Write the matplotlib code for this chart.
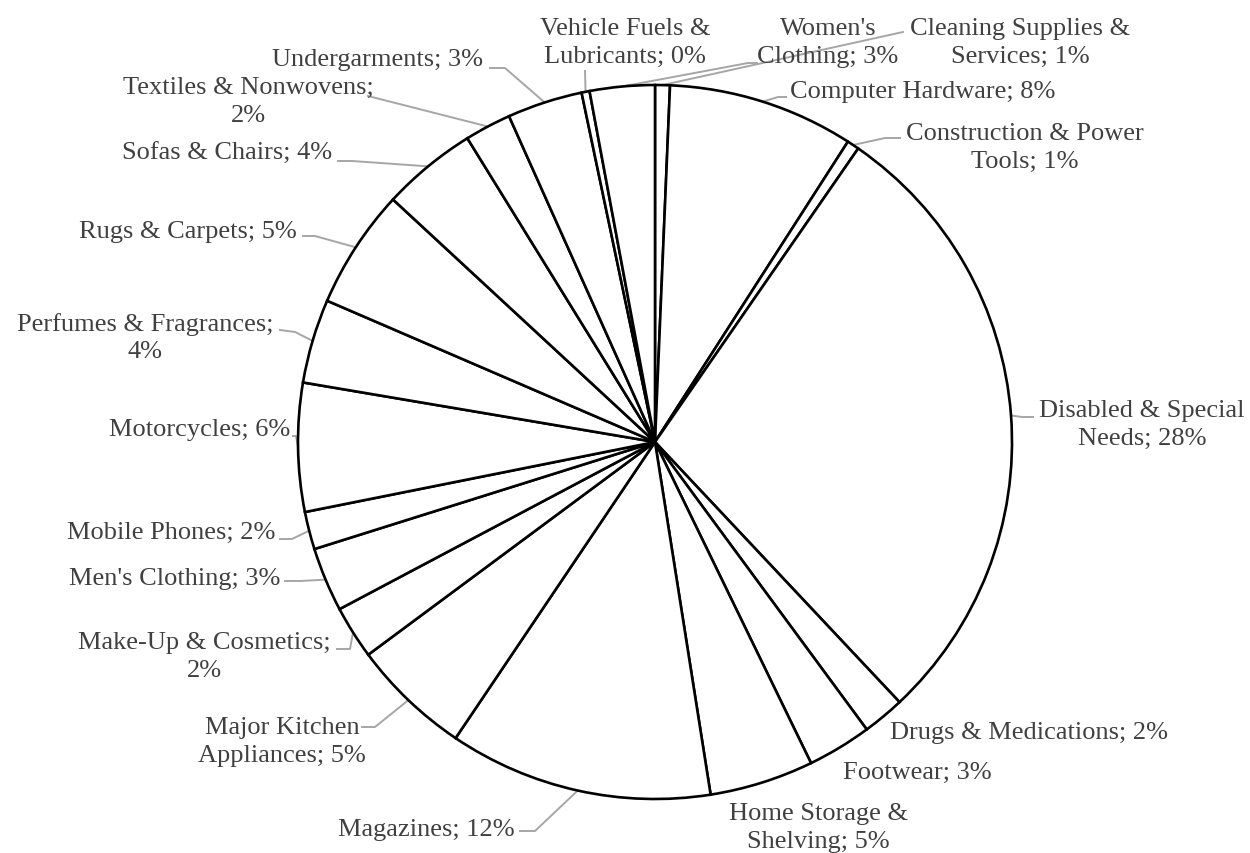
import numpy as np
import matplotlib
matplotlib.use("Agg")
import matplotlib.pyplot as plt

# category shares (percent), clockwise from 12 o'clock
categories = [
    "Cleaning Supplies & Services", "Computer Hardware", "Construction & Power Tools",
    "Disabled & Special Needs", "Drugs & Medications", "Footwear",
    "Home Storage & Shelving", "Magazines", "Major Kitchen Appliances",
    "Make-Up & Cosmetics", "Men's Clothing", "Mobile Phones", "Motorcycles",
    "Perfumes & Fragrances", "Rugs & Carpets", "Sofas & Chairs",
    "Textiles & Nonwovens", "Undergarments", "Vehicle Fuels & Lubricants",
    "Women's Clothing",
]
values = [0.67, 8.4, 0.55, 28.3, 1.9, 2.9, 4.7, 11.9, 5.4, 2.4,
          2.9, 1.7, 5.8, 3.8, 5.4, 4.3, 2.1, 3.4, 0.36, 2.93]

# where the label text wraps onto a second line
breaks = {
    "Cleaning Supplies & Services": "Cleaning Supplies &",
    "Construction & Power Tools": "Construction & Power",
    "Disabled & Special Needs": "Disabled & Special",
    "Home Storage & Shelving": "Home Storage &",
    "Major Kitchen Appliances": "Major Kitchen",
    "Make-Up & Cosmetics": "Make-Up & Cosmetics;",
    "Perfumes & Fragrances": "Perfumes & Fragrances;",
    "Textiles & Nonwovens": "Textiles & Nonwovens;",
    "Vehicle Fuels & Lubricants": "Vehicle Fuels &",
    "Women's Clothing": "Women's",
}

W, H = 1250, 854
CX, CY, R = 655, 443, 357


def px(x, y):
    return x, H - y


# label placement in pixels: (x, y, ha, leader start points)
layout = {
    "Cleaning Supplies & Services": (1020, 43, "center", [(903, 33)]),
    "Computer Hardware": (790, 92, "left", [(786, 98), (778, 98)]),
    "Construction & Power Tools": (1025, 148, "center", [(900, 139), (885, 139)]),
    "Disabled & Special Needs": (1142, 425, "center", [(1033, 418), (1022, 418)]),
    "Drugs & Medications": (890, 733, "left", None),
    "Footwear": (843, 773, "left", None),
    "Home Storage & Shelving": (818, 828, "center", None),
    "Magazines": (515, 830, "right", [(520, 832), (535, 832)]),
    "Major Kitchen Appliances": (282, 742, "center", [(362, 728), (375, 728)]),
    "Make-Up & Cosmetics": (204, 657, "center", [(337, 650), (350, 650)]),
    "Men's Clothing": (280, 579, "right", [(285, 582), (300, 582)]),
    "Mobile Phones": (275, 533, "right", [(280, 540), (292, 540)]),
    "Motorcycles": (290, 430, "right", [(293, 437), (296, 437)]),
    "Perfumes & Fragrances": (145, 338, "center", [(280, 331), (295, 333)]),
    "Rugs & Carpets": (297, 232, "right", [(303, 237), (315, 237)]),
    "Sofas & Chairs": (332, 154, "right", [(338, 162), (352, 162)]),
    "Textiles & Nonwovens": (248, 102, "center", [(368, 97)]),
    "Undergarments": (483, 60, "right", [(490, 69), (505, 69)]),
    "Vehicle Fuels & Lubricants": (625, 43, "center", [(585, 72)]),
    "Women's Clothing": (828, 43, "center", [(757, 64), (748, 64)]),
}

fig = plt.figure(figsize=(W / 100, H / 100), dpi=100)
ax = fig.add_axes([0, 0, 1, 1])

wedges, _ = ax.pie(values, startangle=90, counterclock=False,
                   center=px(CX, CY), radius=R, normalize=True,
                   wedgeprops=dict(facecolor="white", edgecolor="black", linewidth=1.9))

ax.set_xlim(0, W)
ax.set_ylim(0, H)
ax.set_aspect("equal")
ax.axis("off")

for name, val, w in zip(categories, values, wedges):
    label = f"{name}; {round(val)}%"
    if name in breaks:
        head = breaks[name]
        label = head + "\n" + label[len(head):].strip()
    x, y, ha, leader = layout[name]
    ax.text(*px(x, y), label, ha=ha, va="center", multialignment="center",
            fontsize=19, family="Liberation Serif", color="#404040",
            linespacing=1.3)
    if leader:
        mid = np.deg2rad((w.theta1 + w.theta2) / 2)
        ex, ey = CX + R * np.cos(mid), H - CY + R * np.sin(mid)
        xs = [p[0] for p in leader] + [ex]
        ys = [H - p[1] for p in leader] + [ey]
        ax.plot(xs, ys, color="#a6a6a6", lw=1.4, zorder=0.5)

fig.patch.set_facecolor("white")
fig.savefig("out.png", dpi=100, facecolor="white")
